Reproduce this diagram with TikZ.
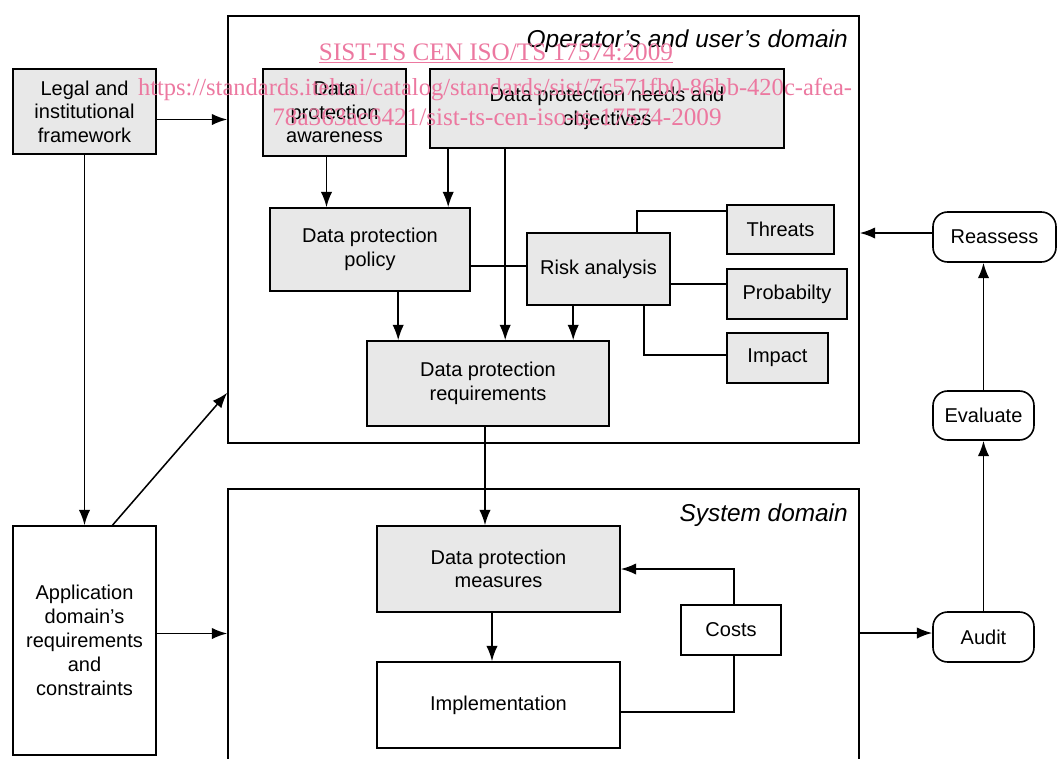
\documentclass[tikz,border=0pt]{standalone}
\usepackage{fontspec}
\setmainfont{Liberation Sans}
\newfontfamily\wmfont{Liberation Serif}
\usetikzlibrary{arrows.meta,calc}
\definecolor{boxgray}{RGB}{232,232,232}
\definecolor{wmpink}{RGB}{236,120,160}
\begin{document}
\begin{tikzpicture}[x=0.75pt,y=-0.75pt,
  wh/.style 2 args={minimum width=#1*0.75pt, minimum height=#2*0.75pt},
  base/.style={draw, line width=1.2pt, inner sep=0pt, align=center,
               font=\fontsize{15}{17.6}\selectfont},
  gbox/.style={base, fill=boxgray},
  wbox/.style={base, fill=white},
  rbox/.style={base, fill=white, rounded corners=11pt},
  domainbox/.style={draw, line width=1.2pt, inner sep=0pt},
  conn/.style={line width=1.15pt},
  arr/.style={conn, -{Latex[length=11.5pt,width=8.5pt]}},
  dlabel/.style={font=\fontsize{18.3}{22}\selectfont\itshape, inner sep=0pt},
  wm/.style={font=\wmfont\fontsize{18.9}{22}\selectfont, text=wmpink, inner sep=0pt}]

\useasboundingbox (0,0) rectangle (1058,758);
\clip (0,0) rectangle (1058,758);

% domains
\node[domainbox, wh={631}{427}] (opdom) at (543.5,229.5) {};
\node[domainbox, wh={631}{311}] (sysdom) at (543.5,644.5) {};
\node[dlabel, anchor=base east] (oplabel) at (848,47) {Operator’s and user’s domain};
\node[dlabel, anchor=base east] (syslabel) at (848,521) {System domain};

% outer boxes
\node[gbox, wh={143}{85}] (legal) at (84.5,111.5) {Legal and\\institutional\\framework};
\node[wbox, wh={143}{229}, font=\fontsize{15}{18}\selectfont] (app) at (84.5,640.5)
  {Application\\domain’s\\requirements\\and\\constraints};

% operator's and user's domain
\node[gbox, wh={143}{87}] (aware) at (334.5,112.5) {Data\\protection\\awareness};
\node[gbox, wh={354}{79}] (needs) at (607,108.5) {Data protection needs and\\objectives};
\node[gbox, wh={200}{83}] (policy) at (370,249.5) {Data protection\\policy};
\node[gbox, wh={143}{72}] (risk) at (598.5,269) {Risk analysis};
\node[gbox, wh={107}{49}] (threats) at (780.5,229.5) {Threats};
\node[gbox, wh={120}{50}] (prob) at (787,294) {Probabilty};
\node[gbox, wh={101}{50}] (impact) at (777.5,358) {Impact};
\node[gbox, wh={242}{85}] (req) at (488,383.5) {Data protection\\requirements};

% system domain
\node[gbox, wh={243}{86}] (meas) at (498.5,569) {Data protection\\measures};
\node[wbox, wh={243}{86}] (impl) at (498.5,705) {Implementation};
\node[wbox, wh={100}{50}] (costs) at (731,630) {Costs};

% review loop
\node[rbox, wh={123}{50}] (reassess) at (994.5,237) {Reassess};
\node[rbox, wh={101}{49}] (eval) at (983.5,415.5) {Evaluate};
\node[rbox, wh={101}{50}] (audit) at (983.5,637) {Audit};

% connectors on the left
\draw[arr] ($(legal.east)+(0,8)$) coordinate (la) -- (la -| opdom.west);
\draw[arr] (legal.south) -- (legal.south |- app.north);
\draw[arr] ($(app.north)+(28,0)$) -- ($(opdom.south west)+(0,-51)$);
\draw[arr] ($(app.east)+(0,-7)$) coordinate (ap) -- (ap -| sysdom.west);

% into the policy
\draw[arr] ($(aware.south)+(-8,0)$) coordinate (a1) -- (a1 |- policy.north);
\draw[arr] ($(needs.south west)+(19,0)$) coordinate (n1) -- (n1 |- policy.north);
% into the requirements
\draw[arr] ($(needs.south west)+(76,0)$) coordinate (n2) -- (n2 |- req.north);
\draw[arr] ($(policy.south west)+(129,0)$) coordinate (p1) -- (p1 |- req.north);
\draw[arr] ($(risk.south west)+(47,0)$) coordinate (r0) -- (r0 |- req.north);

% risk analysis links
\draw[conn] ($(risk.west)+(0,-3)$) coordinate (r1) -- (r1 -| policy.east);
\draw[conn] ($(risk.north west)+(111,0)$) |- ($(threats.north west)+(0,7)$);
\draw[conn] ($(risk.east)+(0,15)$) coordinate (r2) -- (r2 -| prob.west);
\draw[conn] ($(risk.south west)+(118,0)$) |- ($(impact.west)+(0,-3)$);

% system domain links
\draw[arr] ($(req.south)+(-3,0)$) coordinate (q1) -- (q1 |- meas.north);
\draw[arr] ($(meas.south)+(-6.5,0)$) coordinate (m1) -- (m1 |- impl.north);
\draw[arr] ($(costs.north)+(3,0)$) |- (meas.east);
\draw[conn] ($(impl.east)+(0,7)$) -| ($(costs.south)+(3,0)$);

% review loop links
\coordinate (au) at ($(audit.west)+(0,-4)$);
\draw[arr] (au -| sysdom.east) -- (au);
\draw[arr] (audit.north) -- (eval.south);
\draw[arr] (eval.north) -- (eval.north |- reassess.south);
\draw[arr] ($(reassess.west)+(0,-4)$) coordinate (re) -- (re -| opdom.east);

% document stamp
\node[wm, anchor=base] (wm1) at (496,60) {\underline{SIST-TS CEN ISO/TS 17574:2009}};
\node[wm, anchor=base, font=\wmfont\fontsize{18.4}{22}\selectfont] (wm2) at (495,95) {https://standards.iteh.ai/catalog/standards/sist/7c571fb0-86bb-420c-afea-};
\node[wm, anchor=base] (wm3) at (497,125) {78a363ac6421/sist-ts-cen-iso-ts-17574-2009};
\end{tikzpicture}
\end{document}
